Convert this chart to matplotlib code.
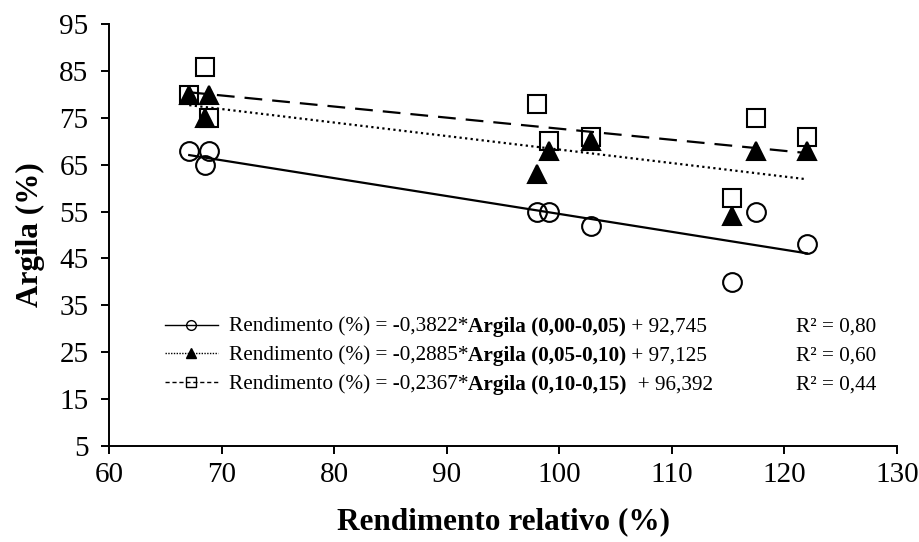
import matplotlib
matplotlib.use("Agg")
import matplotlib.pyplot as plt
import numpy as np
from matplotlib.lines import Line2D

plt.rcParams['font.family'] = 'Liberation Serif'

# rendimento relativo (%) of the nine samples
rendimento = [67.1, 68.5, 68.9, 98.0, 99.1, 102.8, 115.3, 117.5, 122.0]
# argila (%) by layer
argila_000_005 = [68, 65, 68, 55, 55, 52, 40, 55, 48]
argila_005_010 = [80, 75, 80, 63, 68, 70, 54, 68, 68]
argila_010_015 = [80, 86, 75, 78, 70, 71, 58, 75, 71]

eq_start = ["Rendimento (%) = -0,3822*", "Rendimento (%) = -0,2885*", "Rendimento (%) = -0,2367*"]
eq_bold = ["Argila (0,00-0,05)", "Argila (0,05-0,10)", "Argila (0,10-0,15)"]
eq_end = [" + 92,745", " + 97,125", "  + 96,392"]
r2_labels = ["R² = 0,80", "R² = 0,60", "R² = 0,44"]

series = [argila_000_005, argila_005_010, argila_010_015]
markers = ['o', '^', 's']
faces = ['none', 'black', 'none']
trend_styles = ['-', (0, (1, 1.5)), (0, (8, 4.5))]
legend_styles = ['-', (0, (1, 1)), (0, (3, 2))]
legend_ms = [7, 7.5, 6.5]

fig, ax = plt.subplots(figsize=(9.19, 5.42), dpi=100)
fig.subplots_adjust(left=0.119, right=0.976, top=0.955, bottom=0.178)

x = np.array(rendimento)
handles = []
for y, m, fc, ls, lls, lms in zip(series, markers, faces, trend_styles, legend_styles, legend_ms):
    ax.plot(x, y, linestyle='none', marker=m, ms=13.5, mfc=fc, mec='black', mew=1.5, zorder=3)
    coef = np.polyfit(x, y, 1)
    xs = np.array([x.min(), x.max()])
    ax.plot(xs, np.polyval(coef, xs), color='black', lw=1.6, linestyle=ls, zorder=2)
    handles.append(Line2D([], [], color='black', lw=1, linestyle=lls, marker=m,
                          ms=lms, mfc=fc, mec='black', mew=1))

ax.set_xlim(60, 130)
ax.set_ylim(5, 95)
ax.set_xticks(np.arange(60, 131, 10))
ax.set_yticks(np.arange(5, 96, 10))
ax.spines[['top', 'right']].set_visible(False)
for s in ['left', 'bottom']:
    ax.spines[s].set_linewidth(1.4)
ax.tick_params(direction='out', length=6, width=1.4, labelsize=21)
ax.tick_params(axis='y', pad=9)
ax.tick_params(axis='x', pad=6)
ax.set_xlabel("Rendimento relativo (%)", fontsize=22.5, fontweight='bold', labelpad=14)
ax.set_ylabel("Argila (%)", fontsize=22.5, fontweight='bold', labelpad=10)

leg = ax.legend(handles, eq_start, loc='upper left', bbox_to_anchor=(0.0705, 0.305),
                frameon=False, fontsize=15.3, handlelength=2.5, handletextpad=0.5,
                labelspacing=0.42, borderpad=0, borderaxespad=0)
for txt, bold, end, r2 in zip(leg.get_texts(), eq_bold, eq_end, r2_labels):
    b = ax.annotate(bold, xy=(1, 0), xycoords=txt, ha='left', va='bottom',
                    fontsize=15.3, fontweight='bold', zorder=6)
    ax.annotate(end, xy=(1, 0), xycoords=b, ha='left', va='bottom', fontsize=15.3, zorder=7)
    ax.annotate(r2, xy=(0.872, 0), xycoords=(ax.transAxes, txt), ha='left',
                va='bottom', fontsize=15.3, zorder=6)

fig.savefig("out.png", dpi=100)
